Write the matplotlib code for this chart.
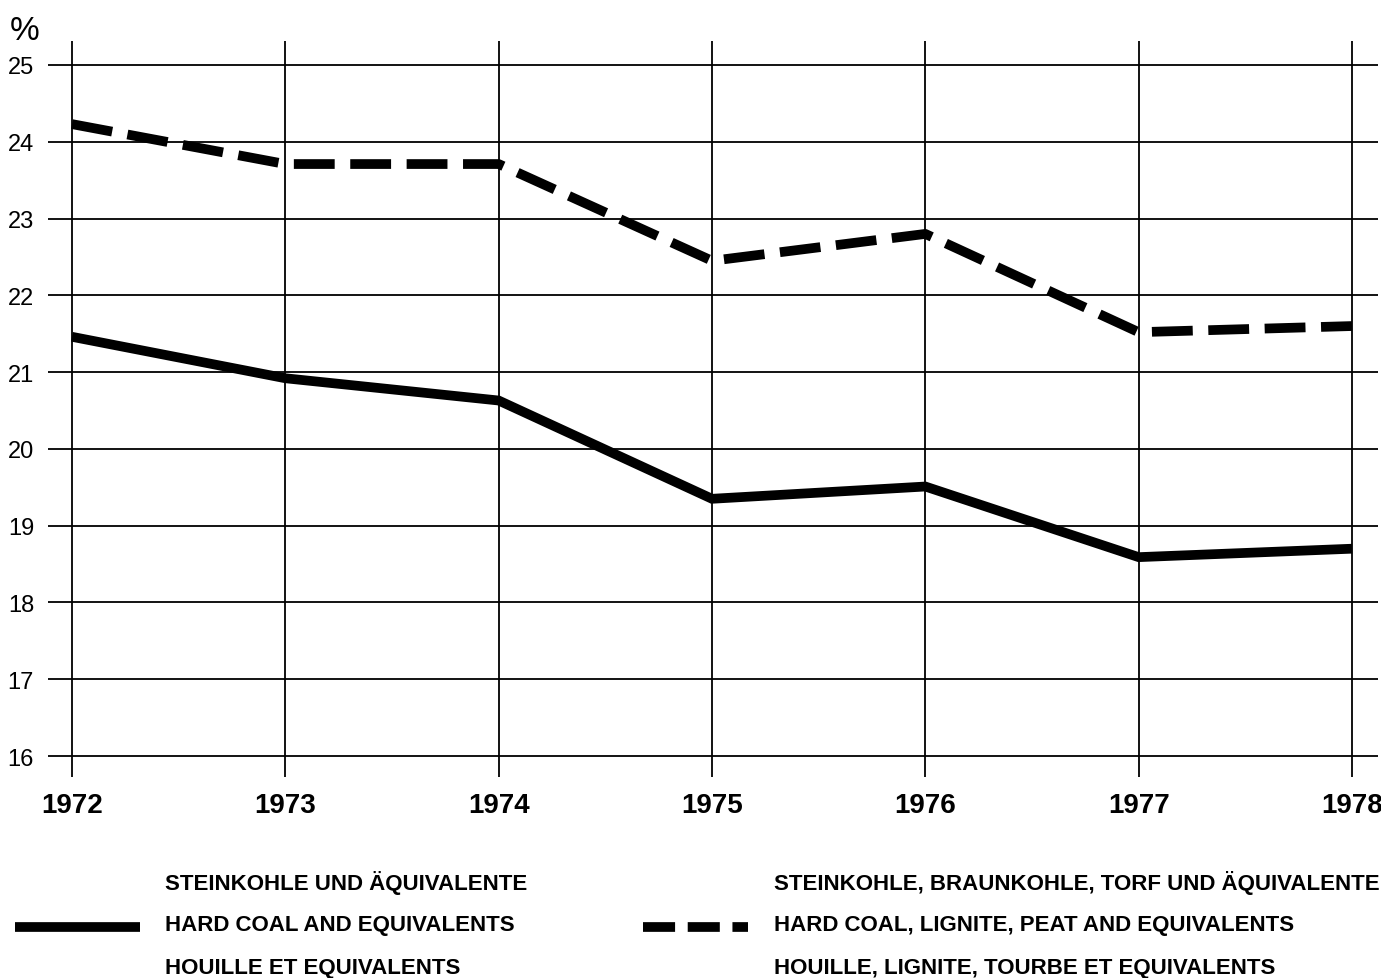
import matplotlib.pyplot as plt
from matplotlib.lines import Line2D

years = [1972, 1973, 1974, 1975, 1976, 1977, 1978]
hard_coal = [21.46, 20.92, 20.63, 19.35, 19.51, 18.59, 18.70]
all_coal = [24.23, 23.71, 23.71, 22.45, 22.80, 21.52, 21.60]
yticks = list(range(16, 26))

labels_solid = ["STEINKOHLE UND ÄQUIVALENTE",
                "HARD COAL AND EQUIVALENTS",
                "HOUILLE ET EQUIVALENTS"]
labels_dash = ["STEINKOHLE, BRAUNKOHLE, TORF UND ÄQUIVALENTE",
               "HARD COAL, LIGNITE, PEAT AND EQUIVALENTS",
               "HOUILLE, LIGNITE, TOURBE ET EQUIVALENTS"]

fam = ["Liberation Sans", "DejaVu Sans"]

fig = plt.figure(figsize=(13.81, 9.79), dpi=100)
W, H = 1381, 979
# axes spans pixels x 48..1378, y 42..778
ax = fig.add_axes([48 / W, 1 - 778 / H, (1378 - 48) / W, (778 - 42) / H])

ax.plot(years, hard_coal, color="black", lw=7, solid_capstyle="butt", solid_joinstyle="miter")
ax.plot(years, all_coal, color="black", lw=7, dashes=(4.2, 1.6), dash_capstyle="butt")

ax.set_xlim(1972 - 24 / 213.3, 1978 + 26 / 213.3)
ax.set_ylim(16 - 21 / 76.8, 25 + 24 / 76.8)

for y in yticks:
    ax.axhline(y, color="black", lw=1.3, zorder=0)
for x in years:
    ax.axvline(x, color="black", lw=1.3, zorder=0)

for s in ax.spines.values():
    s.set_visible(False)
ax.tick_params(length=0)
ax.set_yticks(yticks)
ax.set_xticks(years)
ax.set_yticklabels([str(v) for v in yticks], family=fam, fontsize=17)
ax.set_xticklabels([str(v) for v in years], family=fam, fontsize=20, fontweight="bold")
ax.tick_params(axis="y", pad=10)
ax.tick_params(axis="x", pad=11)

fig.text(25 / W, 1 - 32 / H, "%", family=fam, fontsize=24, ha="center", va="center")

# legend
fig.add_artist(Line2D([15 / W, 140 / W], [1 - 928 / H] * 2, color="black", lw=7, solid_capstyle="butt"))
fig.add_artist(Line2D([643 / W, 748 / W], [1 - 928 / H] * 2, color="black", lw=7,
                      dashes=(3.3, 1.3), dash_capstyle="butt"))
for i, (a, b) in enumerate(zip(labels_solid, labels_dash)):
    yy = 1 - (883 + i * 43) / H
    fig.text(165 / W, yy, a, fontsize=16, fontweight="bold", family=fam, va="center")
    fig.text(774 / W, yy, b, fontsize=16, fontweight="bold", family=fam, va="center")

fig.savefig("out.png", dpi=100, facecolor="white")
